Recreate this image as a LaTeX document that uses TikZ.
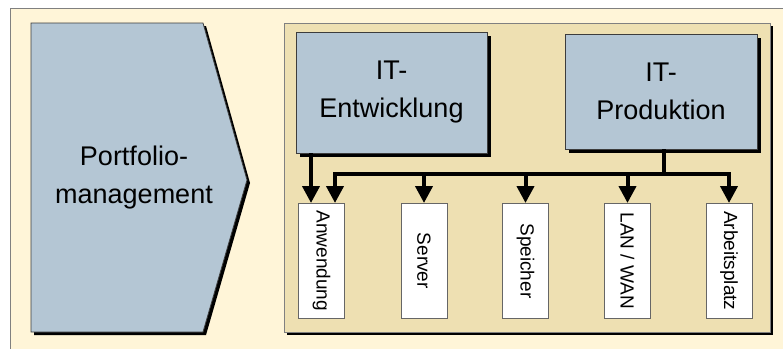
\documentclass[tikz,border=0pt]{standalone}
\usepackage{fontspec}
\setmainfont{Liberation Sans}
\usepackage{graphicx}
\usetikzlibrary{arrows.meta,shadows}
\definecolor{cream}{RGB}{255,245,216}
\definecolor{tan}{RGB}{238,224,178}
\definecolor{bluegray}{RGB}{180,198,212}
\definecolor{edge}{RGB}{60,60,60}
\tikzset{
  bigbox/.style={draw=edge, line width=0.8pt, fill=bluegray, inner sep=0pt,
    align=center, font=\fontsize{27}{38}\selectfont,
    general shadow={shadow xshift=4pt, shadow yshift=-4pt, fill=black}},
  itembox/.style={draw=gray!80!black, line width=0.7pt, fill=white, inner sep=0pt,
    minimum width=46pt, minimum height=115pt, anchor=north,
    font=\fontsize{19}{22}\selectfont},
  busline/.style={line width=4pt, line join=miter, line cap=butt},
  arr/.style={busline, -{Triangle[width=17pt,length=17pt]}},
}
\begin{document}
\begin{tikzpicture}[x=1pt,y=-1pt]
\useasboundingbox (0,0) rectangle (783,348);
\clip (0,0) rectangle (783,348);
\fill[white] (0,0) rectangle (783,348);
% page background
\draw[fill=cream, draw=gray, line width=1pt] (10,8) rectangle (800,370);

% portfolio management chevron with shadow
\fill[black] (34,26) -- (206,26) -- (250,183) -- (206,335) -- (34,335) -- cycle;
\draw[fill=bluegray, draw=edge, line width=0.8pt]
  (31,23) -- (203,23) -- (247,180) -- (203,332) -- (31,332) -- cycle;
\node[align=center, font=\fontsize{27}{38}\selectfont] (pm) at (134,178)
  {Portfolio-\\management};

% IT area
\fill[black] (287,26) rectangle (773,335);
\draw[fill=tan, draw=gray, line width=0.8pt] (284,23) rectangle (770,332);

\node[bigbox, minimum width=191pt, minimum height=121pt] (ent) at (391.5,92.5)
  {IT-\\Entwicklung};
\node[bigbox, minimum width=192pt, minimum height=115pt] (prod) at (661,91.5)
  {IT-\\Produktion};

% components
\node[itembox] (anw) at (321.5,203) {\rotatebox{-90}{Anwendung}};
\node[itembox] (srv) at (424,203) {\rotatebox{-90}{Server}};
\node[itembox] (spe) at (525.5,203) {\rotatebox{-90}{Speicher}};
\node[itembox] (lan) at (627.5,203) {\rotatebox{-90}{LAN / WAN}};
\node[itembox] (arb) at (729,203) {\rotatebox{-90}{Arbeitsplatz}};

% connectors
\coordinate (ex) at (311,174);
\coordinate (busL) at (335,174);
\coordinate (busR) at (arb.north |- busL);
\coordinate (pj) at (664,174);

\draw[arr] (ent.south -| ex) -- (anw.north -| ex);
\draw[busline, {Triangle[width=17pt,length=17pt]}-{Triangle[width=17pt,length=17pt]}]
  (anw.north -| busL) -- (busL) -- (busR) -- (arb.north);
\draw[busline] (prod.south -| pj) -- (pj);
\draw[arr] (srv.north |- busL) -- (srv.north);
\draw[arr] (spe.north |- busL) -- (spe.north);
\draw[arr] (lan.north |- busL) -- (lan.north);
\end{tikzpicture}
\end{document}
